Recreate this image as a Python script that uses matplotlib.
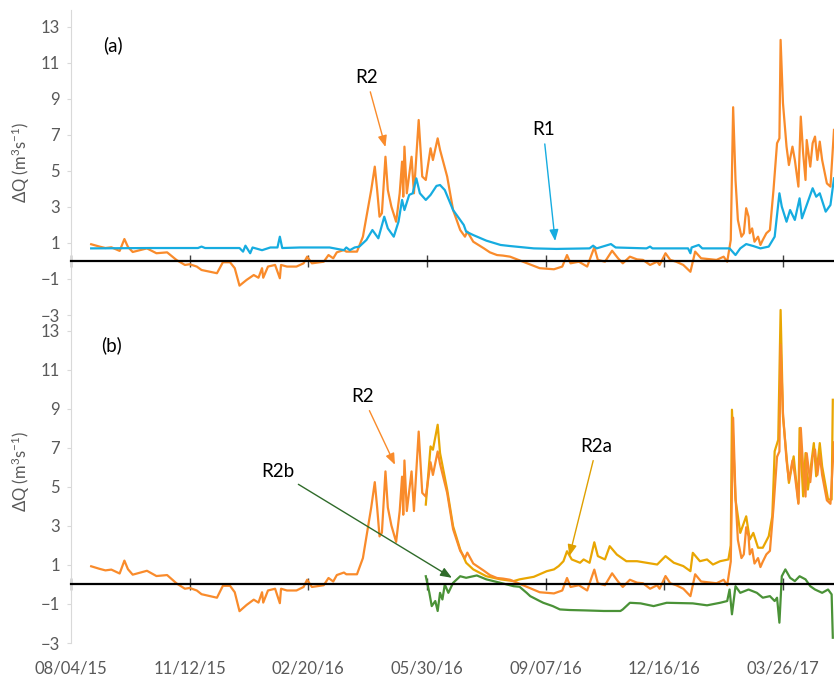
import matplotlib
matplotlib.use("Agg")
import matplotlib.pyplot as plt
import matplotlib.dates as mdates
import numpy as np

plt.rcParams['font.family'] = ['Lato', 'DejaVu Sans']
plt.rcParams['mathtext.default'] = 'regular'

# days since 08/04/15 and dQ (m3/s)
r2_day = [17, 24, 29, 34, 41, 45, 48, 52, 58, 64, 72, 81, 89, 96, 100, 106, 110, 117, 123, 128,
          134, 138, 142, 148, 154, 158, 161, 162, 166, 172, 176, 177, 182, 190, 196, 199, 203, 213,
          217, 221, 224, 230, 232, 241, 246, 249, 253, 256, 258, 260, 262, 265, 267, 270, 274, 277,
          279, 280, 281, 283, 287, 289, 293, 296, 299, 303, 305, 309, 311, 317, 322, 328, 332, 334,
          339, 348, 353, 359, 364, 370, 381, 395, 407, 414, 418, 421, 428, 435, 441, 444, 450, 456,
          461, 465, 471, 477, 482, 488, 494, 496, 501, 505, 510, 516, 522, 526, 531, 538, 544, 550,
          553, 556, 558, 560, 562, 565, 567, 569, 571, 572, 574, 576, 579, 581, 583, 586, 589, 590,
          592, 595, 597, 598, 600, 603, 605, 608, 610, 613, 615, 617, 619, 620, 623, 625, 627, 629,
          631, 633, 637, 640, 643]
r2_val = [0.93, 0.8, 0.72, 0.76, 0.56, 1.22, 0.78, 0.5, 0.6, 0.7, 0.43, 0.48, 0.05, -0.22, -0.18,
          -0.31, -0.5, -0.6, -0.68, -0.07, -0.07, -0.4, -1.37, -1.05, -0.78, -0.93, -0.4, -0.93,
          -0.31, -0.22, -0.96, -0.22, -0.31, -0.31, -0.13, 0.24, -0.13, -0.04, 0.33, 0.15, 0.48,
          0.61, 0.52, 0.52, 1.35, 2.46, 3.94, 5.24, 3.94, 2.46, 2.65, 5.79, 3.94, 3.02, 2.18, 3.76,
          5.52, 3.57, 6.35, 3.76, 5.79, 3.76, 7.83, 4.69, 4.5, 6.26, 5.61, 6.81, 6.17, 4.69, 2.83,
          1.72, 1.35, 1.63, 1.07, 0.7, 0.48, 0.33, 0.3, 0.24, -0.04, -0.4, -0.46, -0.31, 0.33,
          -0.13, -0.04, -0.31, 0.76, 0.06, -0.04, 0.57, 0.15, -0.13, 0.24, 0.09, 0.06, -0.22, -0.04,
          -0.22, 0.43, 0.06, -0.04, -0.22, -0.6, 0.52, 0.15, 0.1, 0.06, 0.24, -0.04, 1.17, 8.54,
          4.5, 2.28, 1.35, 1.54, 2.93, 2.46, 1.54, 1.81, 1.07, 1.35, 0.89, 1.17, 1.54, 1.72, 2.46,
          3.94, 6.54, 6.81, 12.28, 8.76, 6.35, 5.33, 6.35, 5.61, 4.13, 8.02, 5.98, 4.5, 6.72, 5.24,
          6.54, 6.91, 5.61, 6.63, 5.61, 4.31, 4.13, 7.28]

r1_day = [17, 67, 107, 110, 113, 142, 145, 147, 151, 153, 161, 168, 174, 176, 178, 193, 218, 230,
          232, 235, 239, 243, 249, 254, 259, 264, 267, 272, 276, 279, 281, 285, 288, 291, 294, 299,
          303, 308, 311, 315, 322, 331, 333, 339, 350, 362, 370, 390, 409, 437, 440, 443, 455, 459,
          485, 488, 490, 520, 522, 523, 529, 532, 555, 560, 564, 569, 575, 581, 588, 593, 597, 599,
          603, 606, 610, 614, 616, 620, 625, 628, 631, 636, 640, 643]
r1_val = [0.7, 0.72, 0.72, 0.8, 0.72, 0.72, 0.52, 0.85, 0.43, 0.75, 0.6, 0.75, 0.75, 1.35, 0.72,
          0.75, 0.75, 0.6, 0.75, 0.6, 0.75, 0.8, 1.17, 1.72, 1.26, 2.46, 1.81, 1.35, 2.18, 3.39,
          2.83, 3.67, 3.76, 4.59, 3.76, 3.39, 3.67, 4.17, 4.22, 3.94, 2.83, 2.0, 1.63, 1.44, 1.13,
          0.89, 0.83, 0.7, 0.67, 0.7, 0.85, 0.7, 0.94, 0.75, 0.7, 0.8, 0.7, 0.7, 0.43, 0.75, 0.89,
          0.7, 0.7, 0.33, 0.7, 0.94, 0.83, 0.7, 0.8, 1.35, 3.76, 3.02, 2.18, 2.83, 2.28, 3.48, 2.37,
          3.11, 4.04, 3.57, 3.76, 2.74, 3.11, 4.59]

r2a_day = [299, 303, 305, 309, 311, 317, 322, 328, 333, 339, 350, 362, 373, 378, 390, 401, 407,
           411, 415, 418, 422, 429, 432, 437, 441, 444, 450, 454, 460, 468, 477, 485, 494, 501,
           508, 516, 522, 524, 530, 536, 541, 547, 554, 556, 557, 560, 564, 569, 572, 575, 579,
           583, 588, 591, 593, 596, 598, 600, 605, 609, 613, 614, 617, 619, 621, 626, 628, 631,
           633, 638, 641, 642]
r2a_val = [4.09, 7.07, 6.9, 8.18, 6.73, 4.86, 2.98, 1.79, 1.11, 0.77, 0.42, 0.26, 0.17, 0.26, 0.39,
           0.68, 0.77, 0.94, 1.19, 1.7, 1.28, 1.11, 1.28, 1.11, 2.16, 1.45, 1.28, 1.96, 1.53, 1.19,
           1.19, 1.11, 1.02, 1.45, 1.11, 0.94, 0.68, 1.62, 1.19, 1.28, 1.02, 1.19, 1.28, 2.0, 8.95,
           4.35, 2.64, 3.49, 2.3, 2.64, 1.88, 1.88, 2.47, 3.49, 6.82, 7.41, 14.06, 8.6, 5.2, 6.56,
           4.18, 8.01, 4.51, 6.73, 4.86, 7.24, 5.54, 7.24, 6.05, 4.35, 4.35, 9.46]

r2b_day = [299, 302, 304, 307, 309, 311, 313, 315, 318, 322, 328, 333, 342, 350, 362, 373, 378,
           384, 387, 395, 398, 406, 412, 420, 433, 449, 463, 465, 471, 480, 491, 502, 524, 536,
           547, 553, 555, 557, 560, 564, 571, 578, 583, 589, 593, 595, 597, 599, 602, 606, 610,
           614, 619, 623, 627, 633, 638, 641, 642]
r2b_val = [0.42, -0.43, -1.11, -0.85, -1.36, -0.43, -0.77, 0.0, -0.43, 0.08, 0.42, 0.34, 0.46,
           0.26, 0.08, -0.09, -0.12, -0.43, -0.6, -0.85, -0.94, -1.11, -1.28, -1.31, -1.33, -1.36,
           -1.36, -1.28, -0.94, -0.97, -1.11, -0.94, -0.97, -1.07, -0.94, -0.85, -0.26, -1.53, -0.09,
           -0.43, -0.26, -0.43, -0.68, -0.6, -0.85, -0.68, -1.96, 0.42, 0.77, 0.34, 0.17, 0.42,
           0.26, -0.09, -0.26, -0.43, -0.26, -0.51, -2.73]

start = np.datetime64('2015-08-04')
tick_days = [0, 100, 200, 300, 400, 500, 600]


def dates(days):
    return start + np.array(days).astype('timedelta64[D]')


c_r2 = '#F98B2B'
c_r1 = '#16ACE0'
c_r2a = '#E9A602'
c_r2b = '#4A9237'
gray = '#595959'

fig = plt.figure(figsize=(8.34, 6.77), dpi=100)
ax_a = fig.add_axes([71 / 834, 1 - 315 / 677, 763 / 834, 305 / 677])
ax_b = fig.add_axes([71 / 834, 1 - 643 / 677, 763 / 834, 343 / 677])


def style(ax, top, labels, label_y):
    ax.set_facecolor('none')
    ax.set_xlim(start, start + np.timedelta64(643, 'D'))
    ax.set_ylim(-3, top)
    ax.set_yticks(range(-3, 14, 2))
    ax.set_xticks(dates(tick_days))
    ax.xaxis.set_major_formatter(mdates.DateFormatter('%m/%d/%y'))
    ax.spines['right'].set_visible(False)
    ax.spines['bottom'].set_visible(False)
    ax.spines['left'].set_color('#d9d9d9')
    ax.spines['top'].set_position(('data', 0))
    ax.spines['top'].set_color('black')
    ax.spines['top'].set_linewidth(1.6)
    ax.tick_params(axis='x', top=True, bottom=False, direction='inout', length=8.5, width=1,
                   color='#404040', labeltop=False, labelbottom=labels, labelcolor=gray,
                   labelsize=12, pad=8)
    ax.tick_params(axis='y', direction='out', length=3, color='#d9d9d9', labelcolor=gray,
                   labelsize=12, pad=5)
    ax.set_ylabel(r'ΔQ (m$^{3}$s$^{-1}$)', color=gray, fontsize=12)
    ax.yaxis.set_label_coords(-0.051, label_y)


style(ax_a, 13.94, False, 0.5)
style(ax_b, 14.57, True, 0.5)

# panel (a)
ax_a.plot(dates(r2_day), r2_val, color=c_r2, lw=1.6)
ax_a.plot(dates(r1_day), r1_val, color=c_r1, lw=1.6)
ax_a.text(0.042, 0.885, '(a)', transform=ax_a.transAxes, fontsize=13.5, ha='left', va='center')
ax_a.annotate('R2', xy=(dates([265])[0], 6.33), xytext=(dates([249])[0], 10.17),
              fontsize=13.5, ha='center', va='center',
              arrowprops=dict(arrowstyle='-|>,head_length=0.5,head_width=0.2', color=c_r2, lw=1,
                              shrinkA=2, shrinkB=0))
ax_a.annotate('R1', xy=(dates([408])[0], 1.11), xytext=(dates([398])[0], 7.28),
              fontsize=13.5, ha='center', va='center',
              arrowprops=dict(arrowstyle='-|>,head_length=0.5,head_width=0.2', color=c_r1, lw=1,
                              shrinkA=2, shrinkB=0))

# panel (b)
ax_b.plot(dates(r2a_day), r2a_val, color=c_r2a, lw=1.6)
ax_b.plot(dates(r2_day), r2_val, color=c_r2, lw=1.6)
ax_b.plot(dates(r2b_day), r2b_val, color=c_r2b, lw=1.6)
ax_b.text(0.039, 0.869, '(b)', transform=ax_b.transAxes, fontsize=13.5, ha='left', va='center')
ax_b.annotate('R2', xy=(dates([273])[0], 6.13), xytext=(dates([246])[0], 9.61),
              fontsize=13.5, ha='center', va='center',
              arrowprops=dict(arrowstyle='-|>,head_length=0.5,head_width=0.2', color=c_r2, lw=1,
                              shrinkA=2, shrinkB=0))
ax_b.annotate('R2b', xy=(dates([321])[0], 0.34), xytext=(dates([174])[0], 5.78),
              fontsize=13.5, ha='center', va='center',
              arrowprops=dict(arrowstyle='-|>,head_length=0.5,head_width=0.2', color='#2F6B2A',
                              lw=1, shrinkA=2, shrinkB=0))
ax_b.annotate('R2a', xy=(dates([420])[0], 1.45), xytext=(dates([443])[0], 7.06),
              fontsize=13.5, ha='center', va='center',
              arrowprops=dict(arrowstyle='-|>,head_length=0.5,head_width=0.2', color='#DFA000',
                              lw=1, shrinkA=2, shrinkB=0))

fig.savefig('out.png', dpi=100)
